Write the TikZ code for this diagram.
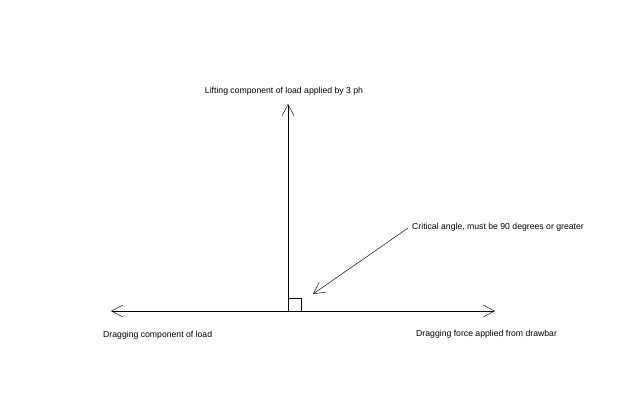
\documentclass[tikz,border=0pt]{standalone}
\usepackage{fontspec}
\setmainfont{Liberation Sans}
\usetikzlibrary{arrows.meta}
\begin{document}
\begin{tikzpicture}[x=0.03cm,y=-0.03cm,
    force/.style={-{Straight Barb[length=3.4mm,width=3.6mm,line width=0.4pt]},line width=0.4pt},
    lbl/.style={font=\fontsize{7.4}{9}\selectfont,inner sep=0pt}]
    \useasboundingbox[fill=white] (0,0) rectangle (639,420);
    \coordinate (origin) at (288,311);
    \coordinate (left) at (111,311);
    \coordinate (right) at (495,311);
    \coordinate (top) at (288,104);
    \coordinate (pointer) at (408,228);
    \coordinate (corner) at (313,294);
    \draw[force] (origin) -- (left);
    \draw[force] (origin) -- (right);
    \draw[force] (origin) -- (top);
    \draw (288,298) -- (301,298) -- (301,311);
    \draw[force] (pointer) -- (corner);
    \node[lbl,anchor=center] (lift) at (284,91) {Lifting component of load applied by 3 ph};
    \node[lbl,anchor=west] (crit) at (412,227) {Critical angle, must be 90 degrees or greater};
    \node[lbl,anchor=west] (drag) at (103,335) {Dragging component of load};
    \node[lbl,anchor=west] (pull) at (416,334) {Dragging force applied from drawbar};
\end{tikzpicture}
\end{document}
